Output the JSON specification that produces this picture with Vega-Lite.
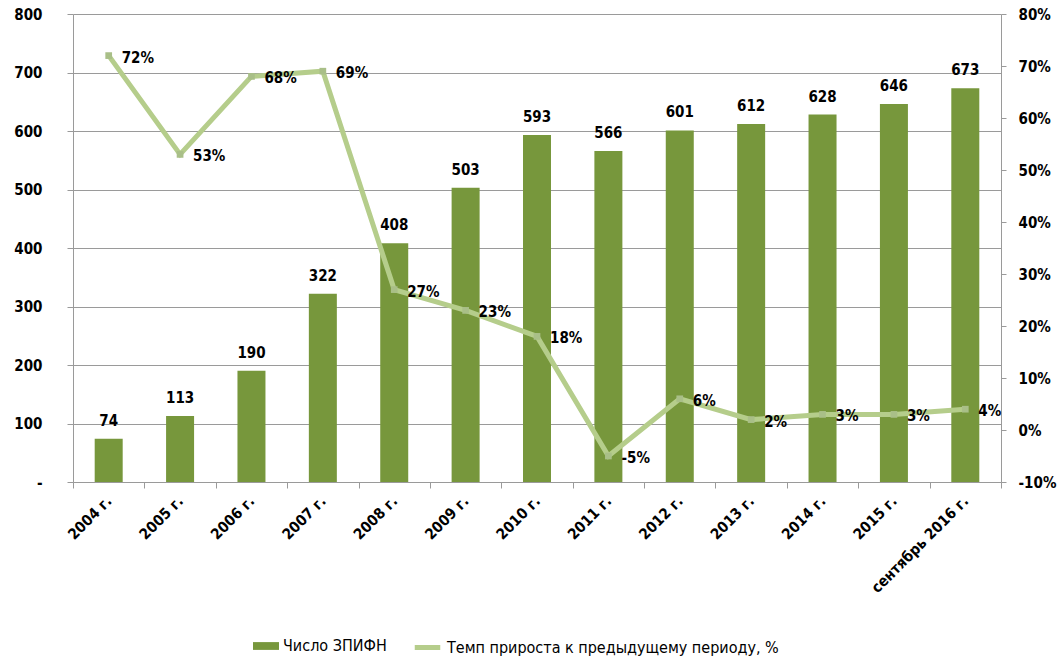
{
  "$schema": "https://vega.github.io/schema/vega-lite/v6.json",
  "width": 928,
  "height": 468,
  "autosize": {"type": "none"},
  "padding": {"left": 73, "top": 14, "right": 58, "bottom": 175},
  "background": "white",
  "config": {
    "view": {"stroke": null},
    "font": "DejaVu Sans Condensed, sans-serif",
    "axis": {"labelFont": "DejaVu Sans Condensed, sans-serif", "labelColor": "#000", "domainColor": "#9a9a9a", "tickColor": "#9a9a9a", "gridColor": "#9a9a9a"},
    "legend": {"labelFont": "DejaVu Sans Condensed, sans-serif"}
  },
  "data": {"values": [
    {"year": "2004 г.", "count": 74, "growth": 0.72},
    {"year": "2005 г.", "count": 113, "growth": 0.53},
    {"year": "2006 г.", "count": 190, "growth": 0.68},
    {"year": "2007 г.", "count": 322, "growth": 0.69},
    {"year": "2008 г.", "count": 408, "growth": 0.27},
    {"year": "2009 г.", "count": 503, "growth": 0.23},
    {"year": "2010 г.", "count": 593, "growth": 0.18},
    {"year": "2011 г.", "count": 566, "growth": -0.05},
    {"year": "2012 г.", "count": 601, "growth": 0.06},
    {"year": "2013 г.", "count": 612, "growth": 0.02},
    {"year": "2014 г.", "count": 628, "growth": 0.03},
    {"year": "2015 г.", "count": 646, "growth": 0.03},
    {"year": "сентябрь 2016 г.", "count": 673, "growth": 0.04}
  ]},
  "encoding": {
    "x": {"field": "year", "type": "nominal", "sort": null, "scale": {"paddingInner": 0, "paddingOuter": 0},
      "axis": {"title": null, "labelAngle": -45, "labelAlign": "right", "labelBaseline": "middle", "tickBand": "extent", "tickSize": 6, "labelPadding": 10, "labelFontSize": 15, "labelFontWeight": "bold"}}
  },
  "layer": [
    {
      "encoding": {
        "y": {"field": "count", "type": "quantitative", "scale": {"domain": [0, 800]},
          "axis": {"title": null, "values": [0, 100, 200, 300, 400, 500, 600, 700, 800], "labelExpr": "datum.value == 0 ? '-' : datum.label", "grid": true, "tickSize": 6, "labelPadding": 25, "labelFontSize": 15, "labelFontWeight": "bold"}}
      },
      "layer": [
        {"mark": {"type": "bar", "size": 28},
         "encoding": {"fill": {"datum": "Число ЗПИФН", "scale": {"range": ["#77973C"]},
           "legend": {"title": null, "orient": "none", "legendX": 180, "legendY": 619, "symbolType": "M-1,-0.3H1V0.3H-1Z", "symbolSize": 676, "labelFontSize": 16, "labelOffset": 4, "symbolStrokeWidth": 0, "labelLimit": 400}}}},
        {"mark": {"type": "text", "dy": -18, "fontSize": 15, "fontWeight": "bold", "color": "#000"},
         "encoding": {"text": {"field": "count", "type": "quantitative"}}}
      ]
    },
    {
      "encoding": {
        "y": {"field": "growth", "type": "quantitative", "scale": {"domain": [-0.1, 0.8]},
          "axis": {"title": null, "orient": "right", "values": [-0.1, 0, 0.1, 0.2, 0.3, 0.4, 0.5, 0.6, 0.7, 0.8], "format": ".0%", "labelExpr": "replace(datum.label, '\u2212', '-')", "grid": false, "tickSize": 5, "labelPadding": 12, "labelFontSize": 15, "labelFontWeight": "bold"}}
      },
      "layer": [
        {"mark": {"type": "line", "strokeWidth": 5},
         "encoding": {"stroke": {"datum": "Темп прироста к предыдущему  периоду, %", "scale": {"range": ["#B5CD8B"]},
           "legend": {"title": null, "orient": "none", "legendX": 339, "legendY": 618, "symbolType": "stroke", "symbolSize": 650, "symbolStrokeWidth": 5, "labelFontSize": 16, "labelOffset": 4, "labelLimit": 500}}}},
        {"mark": {"type": "point", "shape": "square", "size": 45, "filled": true, "color": "#A9BF88", "opacity": 1}},
        {"mark": {"type": "text", "align": "left", "dx": 13, "dy": 2, "fontSize": 15, "fontWeight": "bold", "color": "#000"},
         "encoding": {"text": {"value": {"expr": "replace(format(datum.growth, '.0%'), '\u2212', '-')"}}}}
      ]
    }
  ],
  "resolve": {"scale": {"y": "independent"}}
}
